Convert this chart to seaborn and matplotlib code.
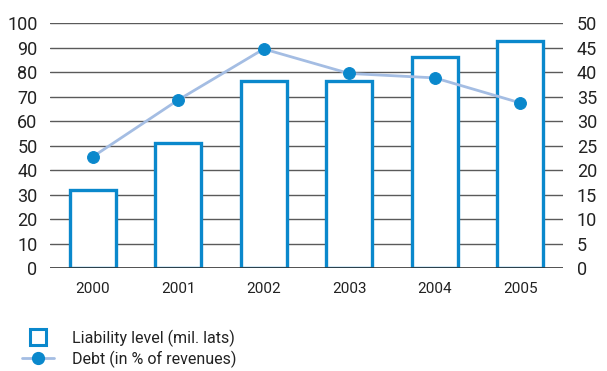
import matplotlib
matplotlib.use("Agg")
import matplotlib.pyplot as plt
from matplotlib.lines import Line2D
import seaborn as sns
import pandas as pd

years = ["2000", "2001", "2002", "2003", "2004", "2005"]
liability = [32, 51, 76.5, 76.5, 86, 92.5]
debt_pct = [22.7, 34.3, 44.7, 39.7, 38.8, 33.7]
left_ticks = list(range(0, 101, 10))
right_ticks = list(range(0, 51, 5))

sns.set_style("white")
plt.rcParams["font.family"] = ["Roboto", "DejaVu Sans"]

bar_blue = "#0a88cc"
line_blue = "#a4bde3"
text_col = "#222222"

df = pd.DataFrame({"year": years, "liability": liability, "debt": debt_pct})

fig = plt.figure(figsize=(6.07, 3.71), dpi=100)
ax = fig.add_axes([50 / 607, 1 - 268 / 371, 513 / 607, 245 / 371])

for v in left_ticks[1:]:
    ax.axhline(v, color="#5a5a5a", lw=1.0, zorder=0)

sns.barplot(data=df, x="year", y="liability", ax=ax, color="white",
            edgecolor=bar_blue, linewidth=2.4, width=0.535, zorder=2)

ax.set_xlim(-0.5, 5.5)
ax.set_ylim(0, 100)
ax.set_yticks(left_ticks)
ax.set_xlabel("")
ax.set_ylabel("")
for s in ax.spines.values():
    s.set_visible(False)
ax.axhline(0, color="#333333", lw=1.2, zorder=3)
ax.tick_params(axis="y", length=0, pad=9, labelsize=13, labelcolor=text_col)
ax.tick_params(axis="x", length=0, pad=10, labelsize=11, labelcolor=text_col)

ax2 = ax.twinx()
sns.lineplot(data=df, x="year", y="debt", ax=ax2, color=line_blue, lw=2,
             marker="o", markersize=8.5, markerfacecolor=bar_blue,
             markeredgecolor=bar_blue, sort=False, zorder=4)
ax2.set_ylim(0, 50)
ax2.set_yticks(right_ticks)
ax2.set_ylabel("")
ax2.set_xlim(-0.5, 5.5)
for s in ax2.spines.values():
    s.set_visible(False)
ax2.tick_params(axis="y", length=0, pad=10, labelsize=13, labelcolor=text_col)
ax2.grid(False)

handles = [
    Line2D([], [], ls="none", marker="s", markersize=11.5, markerfacecolor="white",
           markeredgecolor=bar_blue, markeredgewidth=2.2),
    Line2D([], [], color=line_blue, lw=2, marker="o", markersize=8.5,
           markerfacecolor=bar_blue, markeredgecolor=bar_blue),
]
fig.legend(handles, ["Liability level (mil. lats)", "Debt (in % of revenues)"],
           loc="upper left", bbox_to_anchor=(16 / 607, 1 - 323 / 371),
           frameon=False, fontsize=11.5, handlelength=2.0, handletextpad=1.1,
           labelspacing=0.25, labelcolor=text_col, borderaxespad=0)

fig.savefig("out.png", dpi=100)
